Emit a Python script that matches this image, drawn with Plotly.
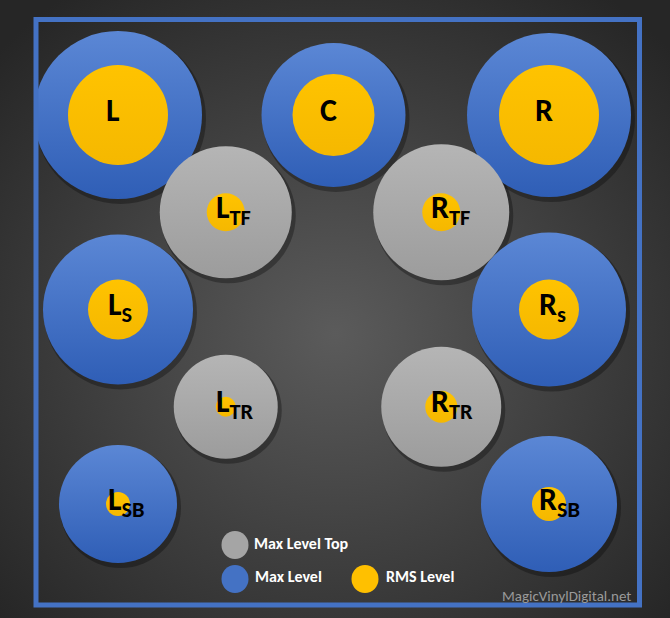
import base64
import plotly.graph_objects as go

# ---------------- data ----------------
speakers   = ["L", "C", "R", "LTF", "RTF", "LS", "RS", "LTR", "RTR", "LSB", "RSB"]
labels     = ["L", "C", "R", "L<sub>TF</sub>", "R<sub>TF</sub>", "L<sub>S</sub>", "R<sub>s</sub>",
              "L<sub>TR</sub>", "R<sub>TR</sub>", "L<sub>SB</sub>", "R<sub>SB</sub>"]
grid_col   = [0, 2, 4, 1, 3, 0, 4, 1, 3, 0, 4]
grid_row   = [0, 0, 0, 1, 1, 2, 2, 3, 3, 4, 4]
is_top     = [False, False, False, True, True, False, False, True, True, False, False]
max_level  = [168, 144, 164, 132, 136, 150, 154, 104, 120, 118, 136]
rms_level  = [100, 82, 100, 38, 38, 60, 60, 20, 32, 24, 34]
legend_items = ["Max Level Top", "Max Level", "RMS Level"]
watermark = "MagicVinylDigital.net"

# ---------------- geometry / styles ----------------
W, H = 670, 618
X0PX, DXPX = 118, 107.75
Y0PX, DYPX = 115, 97.25
xr = [-X0PX / DXPX, (W - X0PX) / DXPX]
yr = [(H - Y0PX) / DYPX, -Y0PX / DYPX]

BLUE_TOP, BLUE_BOT = "#5B87D5", "#2F5EB6"
GRAY_TOP, GRAY_BOT = "#B5B5B5", "#9C9C9C"
YEL_TOP, YEL_BOT = "#FFC300", "#F5B800"
FONT = "Carlito, Lato, 'Open Sans', sans-serif"

svg = (f"<svg xmlns='http://www.w3.org/2000/svg' width='{W}' height='{H}'>"
       "<defs><radialGradient id='g' cx='50%' cy='54%' r='68%'>"
       "<stop offset='0' stop-color='#5b5b5b'/><stop offset='1' stop-color='#262626'/>"
       "</radialGradient></defs>"
       f"<rect width='{W}' height='{H}' fill='url(#g)'/></svg>")
bg_uri = "data:image/svg+xml;base64," + base64.b64encode(svg.encode()).decode()

fig = go.Figure()

def sub(lst, mask):
    return [v for v, m in zip(lst, mask) if m]

floor = [not t for t in is_top]
sx, sy = 2.5 / DXPX, 3.5 / DYPX

# shadows
fig.add_trace(go.Scatter(
    x=[c + sx for c in grid_col], y=[r + sy for r in grid_row], mode="markers",
    marker=dict(size=[m + 3 for m in max_level], sizemode="diameter", opacity=1,
                color="rgba(0,0,0,0.30)", line=dict(width=0)),
    hoverinfo="skip", showlegend=False))

# max level (floor speakers) - blue
fig.add_trace(go.Scatter(
    x=sub(grid_col, floor), y=sub(grid_row, floor), mode="markers",
    marker=dict(size=sub(max_level, floor), sizemode="diameter", color=BLUE_TOP, opacity=1,
                gradient=dict(type="vertical", color=BLUE_BOT), line=dict(width=0)),
    hoverinfo="skip", showlegend=False))

# max level top speakers - gray
fig.add_trace(go.Scatter(
    x=sub(grid_col, is_top), y=sub(grid_row, is_top), mode="markers",
    marker=dict(size=sub(max_level, is_top), sizemode="diameter", color=GRAY_TOP, opacity=1,
                gradient=dict(type="vertical", color=GRAY_BOT), line=dict(width=0)),
    hoverinfo="skip", showlegend=False))

# RMS level - yellow
fig.add_trace(go.Scatter(
    x=grid_col, y=grid_row, mode="markers",
    marker=dict(size=rms_level, sizemode="diameter", color=YEL_TOP, opacity=1,
                gradient=dict(type="vertical", color=YEL_BOT), line=dict(width=0)),
    hoverinfo="skip", showlegend=False))

annotations = []
for lab, c, r in zip(labels, grid_col, grid_row):
    has_sub = "<sub>" in lab
    main, rest = (lab.split("<sub>", 1) if has_sub else (lab, ""))
    txt = f"<b>{main}</b>" + (f"<sub><b>{rest.replace('</sub>', '')}</b></sub>" if has_sub else "")
    annotations.append(dict(
        x=c, y=r, xref="x", yref="y", text=txt, showarrow=False,
        xanchor="left" if has_sub else "center", yanchor="middle",
        xshift=-12 if has_sub else -5, yshift=3 if has_sub else 5,
        font=dict(family=FONT, size=32, color="#000000")))

def px(xp, yp):
    return xp / W, 1 - yp / H

shapes = []
# frame
fx0, fy0 = px(36, 19.5)
fx1, fy1 = px(639.5, 605)
shapes.append(dict(type="rect", xref="paper", yref="paper", x0=fx0, y0=fy1, x1=fx1, y1=fy0,
                   line=dict(color="#4472C4", width=5), fillcolor="rgba(0,0,0,0)", layer="above"))

# legend
leg_pos = [(235, 545), (235, 579), (365, 579)]
leg_col = ["#A5A5A5", "#4472C4", "#FFC000"]
leg_txt_pos = [(252, 543), (253, 576), (384, 576)]
for (cx, cy), col in zip(leg_pos, leg_col):
    a0, b0 = px(cx - 13.5, cy - 14)
    a1, b1 = px(cx + 13.5, cy + 14)
    shapes.append(dict(type="circle", xref="paper", yref="paper", x0=a0, y0=b1, x1=a1, y1=b0,
                       fillcolor=col, line=dict(width=0)))
for (tx, ty), t in zip(leg_txt_pos, legend_items):
    a, b = px(tx, ty)
    annotations.append(dict(x=a, y=b, xref="paper", yref="paper", text=f"<b>{t}</b>",
                            showarrow=False, xanchor="left", yanchor="middle",
                            font=dict(family=FONT, size=16, color="#FFFFFF")))
a, b = px(633, 596)
annotations.append(dict(x=a, y=b, xref="paper", yref="paper", text=watermark, showarrow=False,
                        xanchor="right", yanchor="middle",
                        font=dict(family=FONT, size=15, color="#9A9A9A")))

fig.update_layout(
    width=W, height=H, autosize=False,
    margin=dict(l=0, r=0, t=0, b=0, pad=0),
    paper_bgcolor="#2a2a2a", plot_bgcolor="rgba(0,0,0,0)",
    xaxis=dict(range=xr, visible=False, fixedrange=True),
    yaxis=dict(range=yr, visible=False, fixedrange=True),
    images=[dict(source=bg_uri, xref="paper", yref="paper", x=0, y=1, sizex=1, sizey=1,
                 sizing="stretch", layer="below", xanchor="left", yanchor="top")],
    shapes=shapes, annotations=annotations, showlegend=False,
)

fig.write_html("out.html", config={"displayModeBar": False},
               post_script="document.body.style.margin='0';document.body.style.background='#2a2a2a';")
